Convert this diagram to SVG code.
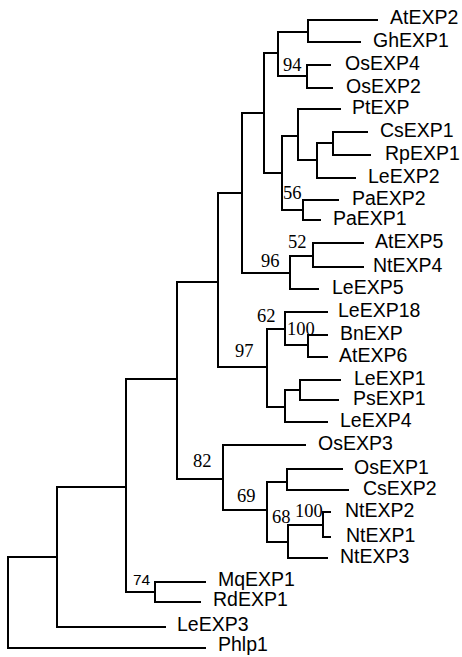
<svg xmlns="http://www.w3.org/2000/svg" width="462" height="657" viewBox="0 0 462 657">
<style>
.br{fill:none;stroke:#000;stroke-width:2;stroke-linecap:square}
.lf{font-family:"Liberation Sans",Arial,sans-serif;font-size:19.5px;fill:#000}
.bs{font-family:"Liberation Serif","Times New Roman",serif;font-size:18.5px;fill:#000}
.bs2{font-family:"Liberation Sans",Arial,sans-serif;font-size:15.5px;fill:#000}
</style>
<rect width="462" height="657" fill="#fff"/>
<g id="connectors" class="br">
<path d="M308,20V42M308,20H377M308,42H360"/>
<path d="M307,65V88M307,65H330M307,88H332"/>
<path d="M278,32V76M278,32H308M278,76H307"/>
<path d="M333,132V155M333,132H367M333,155H370"/>
<path d="M317,143V178M317,143H333M317,178H355"/>
<path d="M298,109V160M298,109H340M298,160H317"/>
<path d="M303,200V220M303,200H338M303,220H320"/>
<path d="M282,136V210M282,136H298M282,210H303"/>
<path d="M264,53V173M264,53H278M264,173H282"/>
<path d="M313,243V267M313,243H363M313,267H363"/>
<path d="M290,256V289M290,256H313M290,289H318"/>
<path d="M242,113V273M242,113H264M242,273H290"/>
<path d="M308,335V357M308,335H327M308,357H327"/>
<path d="M285,312V345M285,312H327M285,345H308"/>
<path d="M300,380V400M300,380H340M300,400H338"/>
<path d="M285,390V422M285,390H300M285,422H327"/>
<path d="M267,329V407M267,329H285M267,407H285"/>
<path d="M218,193V367M218,193H242M218,367H267"/>
<path d="M287,469V490M287,469H342M287,490H348"/>
<path d="M323,512V537M323,512H330M323,537H330"/>
<path d="M288,525V558M288,525H323M288,558H327"/>
<path d="M267,482V542M267,482H287M267,542H288"/>
<path d="M223,445V510M223,445H305M223,510H267"/>
<path d="M177,282V479M177,282H218M177,479H223"/>
<path d="M155,582V602M155,582H205M155,602H200"/>
<path d="M126,379V592M126,379H177M126,592H155"/>
<path d="M57,487V627M57,487H126M57,627H165"/>
<path d="M8,557V648M8,557H57M8,648H205"/>
</g>
<g id="leaves">
<g id="AtEXP2"><text class="lf" x="390" y="24">AtEXP2</text></g>
<g id="GhEXP1"><text class="lf" x="373" y="47">GhEXP1</text></g>
<g id="OsEXP4"><text class="lf" x="345" y="70">OsEXP4</text></g>
<g id="OsEXP2"><text class="lf" x="346" y="93">OsEXP2</text></g>
<g id="PtEXP"><text class="lf" x="352" y="114">PtEXP</text></g>
<g id="CsEXP1"><text class="lf" x="380" y="137">CsEXP1</text></g>
<g id="RpEXP1"><text class="lf" x="385" y="160">RpEXP1</text></g>
<g id="LeEXP2"><text class="lf" x="368" y="183">LeEXP2</text></g>
<g id="PaEXP2"><text class="lf" x="352" y="205">PaEXP2</text></g>
<g id="PaEXP1"><text class="lf" x="333" y="225">PaEXP1</text></g>
<g id="AtEXP5"><text class="lf" x="375" y="248">AtEXP5</text></g>
<g id="NtEXP4"><text class="lf" x="373" y="272">NtEXP4</text></g>
<g id="LeEXP5"><text class="lf" x="332" y="294">LeEXP5</text></g>
<g id="LeEXP18"><text class="lf" x="338" y="317">LeEXP18</text></g>
<g id="BnEXP"><text class="lf" x="340" y="340">BnEXP</text></g>
<g id="AtEXP6"><text class="lf" x="339" y="362">AtEXP6</text></g>
<g id="LeEXP1"><text class="lf" x="354" y="385">LeEXP1</text></g>
<g id="PsEXP1"><text class="lf" x="353" y="405">PsEXP1</text></g>
<g id="LeEXP4"><text class="lf" x="340" y="427">LeEXP4</text></g>
<g id="OsEXP3"><text class="lf" x="318" y="450">OsEXP3</text></g>
<g id="OsEXP1"><text class="lf" x="354" y="474">OsEXP1</text></g>
<g id="CsEXP2"><text class="lf" x="363" y="495">CsEXP2</text></g>
<g id="NtEXP2"><text class="lf" x="345" y="517">NtEXP2</text></g>
<g id="NtEXP1"><text class="lf" x="346" y="542">NtEXP1</text></g>
<g id="NtEXP3"><text class="lf" x="340" y="563">NtEXP3</text></g>
<g id="MqEXP1"><text class="lf" x="218" y="586">MqEXP1</text></g>
<g id="RdEXP1"><text class="lf" x="213" y="606">RdEXP1</text></g>
<g id="LeEXP3"><text class="lf" x="177" y="631">LeEXP3</text></g>
<g id="Phlp1"><text class="lf" x="218" y="651">Phlp1</text></g>
</g>
<g id="support">
<g id="n94"><text class="bs" x="283" y="71">94</text></g>
<g id="n56"><text class="bs" x="283" y="199">56</text></g>
<g id="n52"><text class="bs" x="288" y="248">52</text></g>
<g id="n96"><text class="bs" x="261" y="267">96</text></g>
<g id="n62"><text class="bs" x="257" y="322">62</text></g>
<g id="n100a"><text class="bs" x="287" y="335">100</text></g>
<g id="n97"><text class="bs" x="235" y="357">97</text></g>
<g id="n82"><text class="bs" x="193" y="467">82</text></g>
<g id="n69"><text class="bs" x="237" y="502">69</text></g>
<g id="n68"><text class="bs" x="272" y="523">68</text></g>
<g id="n100b"><text class="bs" x="295" y="517">100</text></g>
<g id="n74"><text class="bs2" x="133" y="585">74</text></g>
</g>
</svg>
